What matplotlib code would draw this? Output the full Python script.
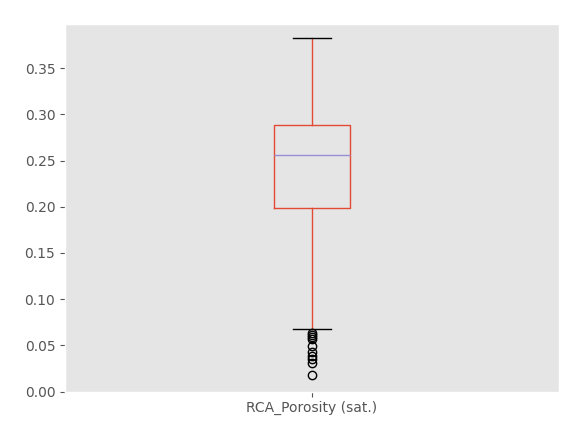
import matplotlib
matplotlib.use("Agg")
import matplotlib.pyplot as plt

plt.style.use("ggplot")

label = "RCA_Porosity (sat.)"
whisker_low = 0.0675
q1 = 0.199
median = 0.2565
q3 = 0.289
whisker_high = 0.3825
outliers = [0.063, 0.061, 0.059, 0.057, 0.049, 0.043, 0.039, 0.035, 0.031, 0.0175]

stats = [{
    "label": label,
    "whislo": whisker_low,
    "q1": q1,
    "med": median,
    "q3": q3,
    "whishi": whisker_high,
    "fliers": outliers,
}]

fig = plt.figure(figsize=(5.88, 4.29), dpi=100)
ax = fig.add_axes([0.1105, 0.0872, 0.8402, 0.8572])

ax.bxp(stats, widths=0.152, capwidths=0.076,
       boxprops=dict(color="#E24A33"),
       whiskerprops=dict(color="#E24A33"),
       medianprops=dict(color="#988ED5"),
       capprops=dict(color="k"),
       flierprops=dict(marker="o", markerfacecolor="none", markeredgecolor="k"))

ax.set_xlim(0.5, 1.5)
ax.set_ylim(0, 0.398)
ax.set_yticks([0.0, 0.05, 0.1, 0.15, 0.2, 0.25, 0.3, 0.35])
ax.grid(False)

fig.savefig("out.png", dpi=100)
